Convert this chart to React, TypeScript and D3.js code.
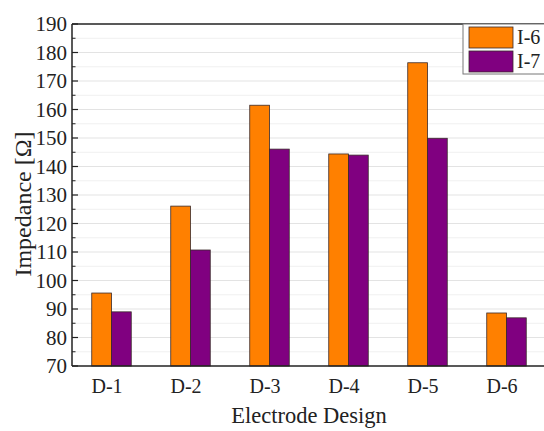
import React from 'react'
import * as d3 from 'd3'

const designs = ['D-1', 'D-2', 'D-3', 'D-4', 'D-5', 'D-6']
const seriesNames = ['I-6', 'I-7']
const valuesI6 = [95.6, 126.1, 161.5, 144.4, 176.4, 88.6]
const valuesI7 = [89.0, 110.7, 146.1, 144.0, 149.9, 86.9]
const yTicks = [70, 80, 90, 100, 110, 120, 130, 140, 150, 160, 170, 180, 190]
const colors = ['#ff8000', '#800080']

const W = 544
const H = 431
const m = {left: 72, right: 546, top: 24, bottom: 366}
const font = 'Liberation Serif'

const x = d3.scaleBand().domain(designs).range([m.left, m.right])
const inner = d3.scaleBand().domain(seriesNames).range([0, x.bandwidth() / 2])
const y = d3.scaleLinear().domain([70, 190]).range([m.bottom, m.top])
const minor = d3.range(75, 190, 10)
const series = [valuesI6, valuesI7]

const App = () => (
	<svg width={W} height={H} style={{position: 'absolute', left: 0, top: 0, background: 'white'}}>
		{/* grid */}
		{minor.map(d => (
			<line key={'mg' + d} x1={m.left} x2={m.right} y1={y(d)} y2={y(d)} stroke='#f0f0f0' strokeWidth={1}/>
		))}
		{yTicks.slice(1, -1).map(d => (
			<line key={'g' + d} x1={m.left} x2={m.right} y1={y(d)} y2={y(d)} stroke='#e3e3e3' strokeWidth={1.2}/>
		))}

		{/* bars */}
		{series.map((vals, si) => vals.map((v, i) => (
			<rect key={si + '-' + i}
				x={x(designs[i])! + x.bandwidth() / 4 + inner(seriesNames[si])!}
				y={y(v)} width={inner.bandwidth()} height={m.bottom - y(v)}
				fill={colors[si]} stroke='#3a2a2a' strokeWidth={0.8}/>
		)))}

		{/* frame */}
		<line x1={m.left} x2={m.right} y1={m.top} y2={m.top} stroke='#222' strokeWidth={1.5}/>
		<line x1={m.left} x2={m.right} y1={m.bottom} y2={m.bottom} stroke='#222' strokeWidth={1.5}/>
		<line x1={m.left} x2={m.left} y1={m.top} y2={m.bottom} stroke='#222' strokeWidth={1.5}/>

		{/* y ticks, inward */}
		{yTicks.map(d => (
			<g key={'t' + d}>
				<line x1={m.left} x2={m.left + 6} y1={y(d)} y2={y(d)} stroke='#222' strokeWidth={1.2}/>
				<text x={m.left - 5} y={y(d) + 7} textAnchor='end' fontFamily={font} fontSize={21} fill='#222'>{d}</text>
			</g>
		))}
		{minor.map(d => (
			<line key={'mt' + d} x1={m.left} x2={m.left + 3.5} y1={y(d)} y2={y(d)} stroke='#222' strokeWidth={1}/>
		))}

		{/* x labels sit a little left of the bar pair, as in the original */}
		{designs.map(d => (
			<text key={d} x={x(d)! + x.bandwidth() / 2 - 4.5} y={393} textAnchor='middle'
				fontFamily={font} fontSize={20} fill='#222'>{d}</text>
		))}

		{/* axis titles */}
		<text x={(m.left + m.right) / 2} y={423} textAnchor='middle' fontFamily={font} fontSize={22.5} fill='#222'>
			Electrode Design
		</text>
		<text transform='translate(31,204) rotate(-90)' textAnchor='middle' fontFamily={font} fontSize={24} fill='#222'>
			Impedance [Ω]
		</text>

		{/* legend */}
		<rect x={463} y={m.top} width={100} height={50} fill='white' stroke='#777' strokeWidth={1}/>
		{seriesNames.map((s, i) => (
			<g key={s}>
				<rect x={469} y={27 + i * 24} width={44} height={21} fill={colors[i]} stroke='#3a2a2a' strokeWidth={0.8}/>
				<text x={517} y={44 + i * 24} fontFamily={font} fontSize={20} fill='#222'>{s}</text>
			</g>
		))}
	</svg>
)

export default App
